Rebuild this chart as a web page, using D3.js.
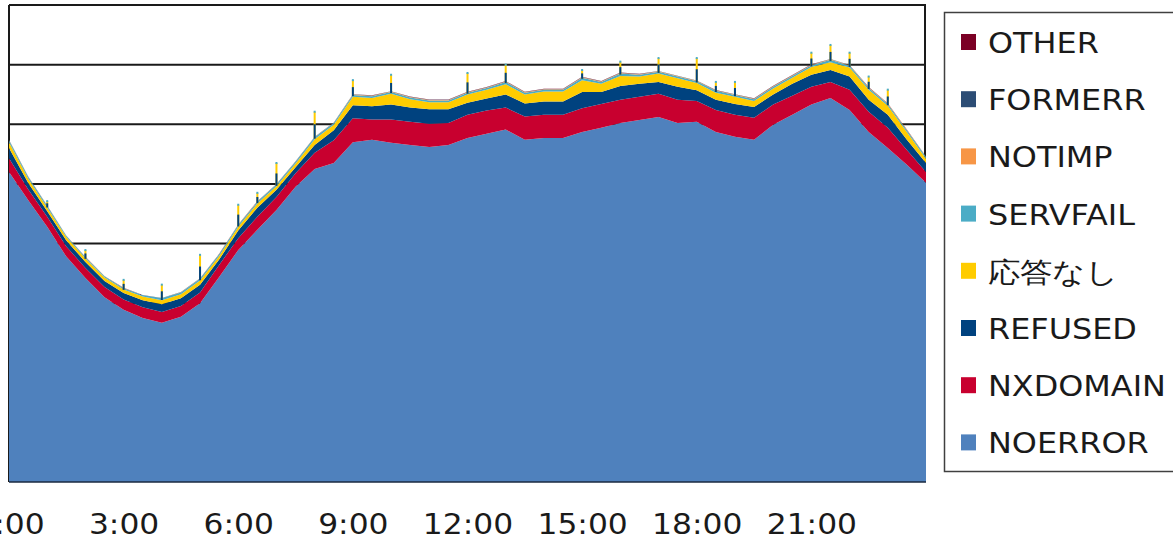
<!DOCTYPE html>
<html>
<head>
<meta charset="utf-8">
<script src="https://cdn.jsdelivr.net/npm/d3@7"></script>
<style>
body { margin: 0; background: #ffffff; }
svg { display: block; font-family: "DejaVu Sans", Verdana, sans-serif; }
</style>
</head>
<body>
<svg id="chart" width="1173" height="541"></svg>
<script>
// half-hour samples over one day
var times = ["0:00","0:30","1:00","1:30","2:00","2:30","3:00","3:30","4:00","4:30",
    "5:00","5:30","6:00","6:30","7:00","7:30","8:00","8:30","9:00","9:30",
    "10:00","10:30","11:00","11:30","12:00","12:30","13:00","13:30","14:00","14:30",
    "15:00","15:30","16:00","16:30","17:00","17:30","18:00","18:30","19:00","19:30",
    "20:00","20:30","21:00","21:30","22:00","22:30","23:00","23:30","24:00"]

var noerror = [5.20,4.73,4.28,3.78,3.42,3.10,2.89,2.75,2.67,2.77,
    3.00,3.44,3.89,4.23,4.56,4.95,5.25,5.35,5.70,5.74,
    5.69,5.65,5.62,5.65,5.77,5.84,5.91,5.74,5.77,5.77,
    5.87,5.94,6.02,6.07,6.12,6.02,6.04,5.87,5.79,5.74,
    5.99,6.16,6.33,6.44,6.24,5.87,5.60,5.32,5.02]
var nxdomain = [0.23,0.18,0.17,0.17,0.17,0.17,0.17,0.18,0.18,0.18,
    0.18,0.20,0.20,0.22,0.22,0.23,0.27,0.38,0.40,0.34,
    0.39,0.39,0.39,0.37,0.39,0.39,0.37,0.39,0.39,0.39,
    0.40,0.40,0.39,0.39,0.39,0.39,0.35,0.37,0.37,0.37,
    0.34,0.32,0.30,0.27,0.34,0.34,0.34,0.25,0.18]
var refused = [0.17,0.11,0.09,0.10,0.10,0.10,0.11,0.12,0.13,0.13,
    0.13,0.09,0.13,0.15,0.12,0.10,0.13,0.17,0.22,0.22,
    0.25,0.24,0.24,0.23,0.20,0.20,0.22,0.22,0.22,0.22,
    0.27,0.20,0.23,0.22,0.20,0.22,0.18,0.17,0.18,0.18,
    0.17,0.20,0.20,0.20,0.22,0.20,0.22,0.17,0.15]
var noAnswer = [0.10,0.07,0.06,0.06,0.06,0.06,0.06,0.06,0.07,0.07,
    0.07,0.06,0.06,0.07,0.06,0.06,0.10,0.09,0.14,0.14,
    0.18,0.14,0.12,0.12,0.14,0.15,0.17,0.15,0.17,0.17,
    0.20,0.14,0.17,0.12,0.14,0.14,0.12,0.12,0.12,0.10,
    0.10,0.10,0.13,0.13,0.15,0.17,0.15,0.13,0.07]
var servfail = [0.03,0.03,0.03,0.02,0.02,0.02,0.02,0.02,0.03,0.03,
    0.03,0.03,0.03,0.03,0.03,0.03,0.03,0.03,0.03,0.03,
    0.03,0.03,0.03,0.03,0.03,0.03,0.04,0.03,0.03,0.03,
    0.04,0.03,0.04,0.03,0.03,0.03,0.03,0.03,0.03,0.03,
    0.03,0.03,0.03,0.04,0.03,0.03,0.03,0.03,0.03]
var notimp = [0.005,0.004,0.004,0.003,0.003,0.003,0.003,0.003,0.003,0.003,
    0.004,0.004,0.004,0.005,0.005,0.005,0.006,0.006,0.008,0.008,
    0.008,0.008,0.008,0.008,0.008,0.008,0.009,0.008,0.008,0.008,
    0.009,0.008,0.009,0.008,0.008,0.008,0.008,0.008,0.008,0.008,
    0.008,0.008,0.008,0.009,0.008,0.007,0.006,0.006,0.005]
var formerr = [0.003,0.003,0.002,0.002,0.002,0.002,0.002,0.002,0.002,0.002,
    0.002,0.002,0.003,0.003,0.003,0.003,0.003,0.003,0.004,0.004,
    0.004,0.004,0.004,0.004,0.004,0.004,0.004,0.004,0.004,0.004,
    0.004,0.004,0.004,0.004,0.004,0.004,0.004,0.004,0.004,0.004,
    0.004,0.004,0.004,0.004,0.004,0.004,0.003,0.003,0.003]
var other = [0.002,0.002,0.002,0.001,0.001,0.001,0.001,0.001,0.001,0.001,
    0.001,0.001,0.002,0.002,0.002,0.002,0.002,0.002,0.003,0.003,
    0.003,0.003,0.003,0.003,0.003,0.003,0.003,0.003,0.003,0.003,
    0.003,0.003,0.003,0.003,0.003,0.003,0.003,0.003,0.003,0.003,
    0.003,0.003,0.003,0.003,0.003,0.003,0.002,0.002,0.002]

// short one-minute peaks at the top of the stack (time, peak total)
var spikeTimes = ["1:00","2:00","3:00","4:00","5:00","6:00","6:30","7:00","8:00","9:00",
    "10:00","12:00","13:00","15:00","16:00","17:00","18:00","18:30","19:00","21:00",
    "21:30","22:00","22:30","23:00"]
var spikeTops = [4.71,3.89,3.39,3.31,3.81,4.65,4.85,5.35,6.21,6.74,
    6.83,6.86,7.00,6.91,7.05,7.11,7.11,6.71,6.71,7.20,
    7.33,7.20,6.80,6.58]

var seriesNames = ["NOERROR", "NXDOMAIN", "REFUSED", "応答なし", "SERVFAIL", "NOTIMP", "FORMERR", "OTHER"]
var seriesValues = [noerror, nxdomain, refused, noAnswer, servfail, notimp, formerr, other]
var seriesColors = ["#4f81bd", "#c8002f", "#00427f", "#ffcc00", "#4bacc6", "#f79646", "#2c4d75", "#7b0025"]
var tickLabels = ["0:00", "3:00", "6:00", "9:00", "12:00", "15:00", "18:00", "21:00"]
var yGrid = [1, 2, 3, 4, 5, 6, 7, 8]

document.addEventListener('DOMContentLoaded', function () {
    drawChart()
})

function toHours(t) {
    var p = t.split(":")
    return +p[0] + (+p[1]) / 60
}

function drawChart() {
    const svg = d3.select("#chart")

    let rows = times.map((t, i) => {
        let r = { hour: toHours(t) }
        seriesNames.forEach((n, j) => { r[n] = seriesValues[j][i] })
        return r
    })

    let x = d3.scaleLinear().domain([0, 24]).range([9, 926])
    let y = d3.scaleLinear().domain([0, 8]).range([482, 5])

    let stacked = d3.stack().keys(seriesNames)(rows)

    // grid lines and plot border, behind the areas
    svg.append('g')
        .selectAll('line')
        .data(yGrid)
        .enter().append('line')
        .attr('x1', x(0))
        .attr('x2', x(24))
        .attr('y1', d => y(d))
        .attr('y2', d => y(d))
        .style('stroke', '#1a1a1a')
        .style('stroke-width', 2)

    svg.append('line')
        .attr('x1', x(0)).attr('x2', x(0))
        .attr('y1', y(8)).attr('y2', y(0))
        .style('stroke', '#1a1a1a')
        .style('stroke-width', 2)
    svg.append('line')
        .attr('x1', x(24) - 1).attr('x2', x(24) - 1)
        .attr('y1', y(8)).attr('y2', y(0))
        .style('stroke', '#1a1a1a')
        .style('stroke-width', 2)

    let area = d3.area()
        .x(d => x(d.data.hour))
        .y0(d => y(d[0]))
        .y1(d => y(d[1]))

    svg.append('g')
        .selectAll('path')
        .data(stacked)
        .enter().append('path')
        .attr('d', area)
        .style('fill', (d, i) => seriesColors[i])

    // peaks: stem from the stack top up to the peak
    let top = stacked[stacked.length - 1]
    let spikes = spikeTimes.map((t, i) => {
        let k = times.indexOf(t)
        return { hour: toHours(t), base: top[k][1], peak: spikeTops[i] }
    })
    let spikeG = svg.append('g')
        .selectAll('g')
        .data(spikes)
        .enter().append('g')
    spikeG.append('rect')
        .attr('x', d => x(d.hour) - 1)
        .attr('width', 2)
        .attr('y', d => y(d.peak))
        .attr('height', d => y(d.base) - y(d.peak) + 2)
        .style('fill', '#ffcc00')
    spikeG.append('rect')
        .attr('x', d => x(d.hour) - 1)
        .attr('width', 2)
        .attr('y', d => y((d.peak + d.base) / 2))
        .attr('height', d => y(d.base) - y((d.peak + d.base) / 2) + 2)
        .style('fill', '#00427f')
    spikeG.append('rect')
        .attr('x', d => x(d.hour) - 1)
        .attr('width', 2)
        .attr('y', d => y(d.peak) - 1)
        .attr('height', 2)
        .style('fill', '#4bacc6')

    // bottom axis line
    svg.append('line')
        .attr('x1', x(0)).attr('x2', x(24))
        .attr('y1', y(0)).attr('y2', y(0))
        .style('stroke', '#1a2a40')
        .style('stroke-width', 1.5)

    let xAxis = d3.axisBottom(x)
        .tickValues(tickLabels.map(toHours))
        .tickFormat((d, i) => tickLabels[i])
        .tickSize(0)

    let axisG = svg.append('g')
        .attr('transform', `translate(0, ${y(0)})`)
        .call(xAxis)
    axisG.select('.domain').remove()
    axisG.selectAll('.tick text')
        .attr('y', 0)
        .attr('dy', 0)
        .attr('x', 0)
        .attr('transform', 'translate(0, 52) scale(1.12, 1)')
        .attr('text-anchor', 'middle')
        .style('font-size', '28px')
        .style('font-family', '"DejaVu Sans", Verdana, sans-serif')
        .style('fill', '#1a1a1a')

    // legend
    let legend = svg.append('g')
    legend.append('rect')
        .attr('x', 944.5)
        .attr('y', 12.5)
        .attr('width', 240)
        .attr('height', 459)
        .style('fill', '#ffffff')
        .style('stroke', '#404040')
        .style('stroke-width', 1.5)

    let legendOrder = seriesNames.slice().reverse()
    let items = legend.selectAll('g.item')
        .data(legendOrder)
        .enter().append('g')
        .attr('class', 'item')
        .attr('transform', (d, i) => `translate(0, ${43 + i * 57.2})`)

    items.append('rect')
        .attr('x', 961)
        .attr('y', -9)
        .attr('width', 15)
        .attr('height', 16)
        .style('fill', d => seriesColors[seriesNames.indexOf(d)])

    items.append('text')
        .text(d => d)
        .attr('transform', 'translate(988, 10) scale(1.16, 1)')
        .style('font-size', '27.5px')
        .style('fill', '#1a1a1a')
}
</script>
</body>
</html>
